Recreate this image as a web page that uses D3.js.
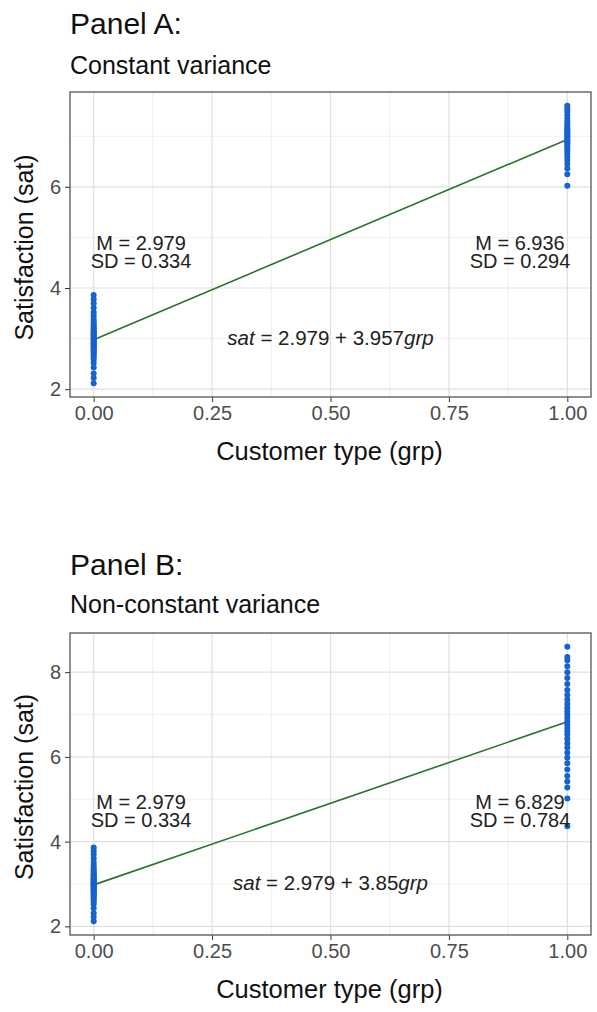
<!DOCTYPE html>
<html>
<head>
<meta charset="utf-8">
<script src="https://cdn.jsdelivr.net/npm/d3@7"></script>
<style>
  body { margin: 0; background: #fff; }
  svg text { font-family: Helvetica, Arial, "Liberation Sans", sans-serif; }
</style>
</head>
<body>
<svg id="chart" width="597" height="1012"></svg>
<script>
// data
const xTicks = [0, 0.25, 0.5, 0.75, 1]
const xTickLabels = ["0.00", "0.25", "0.50", "0.75", "1.00"]

// group 0 is the same in both panels
const satGrp0 = [2.12, 2.22, 2.31, 2.43, 2.52, 2.58, 2.63, 2.66, 2.70, 2.73, 2.76, 2.79, 2.81, 2.84, 2.86,
    2.88, 2.90, 2.92, 2.94, 2.96, 2.98, 3.00, 3.02, 3.04, 3.06, 3.08, 3.10, 3.12, 3.14, 3.17, 3.20,
    3.23, 3.26, 3.30, 3.34, 3.39, 3.45, 3.52, 3.61, 3.70, 3.78, 3.86]
const satGrp1A = [6.02, 6.25, 6.36, 6.45, 6.53, 6.60, 6.66, 6.71, 6.75, 6.79, 6.83, 6.86, 6.89, 6.92, 6.95,
    6.98, 7.01, 7.04, 7.07, 7.10, 7.13, 7.16, 7.20, 7.24, 7.29, 7.35, 7.42, 7.49, 7.55, 7.60]
const satGrp1B = [4.36, 5.02, 5.28, 5.42, 5.55, 5.70, 5.85, 5.98, 6.10, 6.22, 6.32, 6.42, 6.52, 6.60, 6.68,
    6.76, 6.84, 6.92, 7.00, 7.08, 7.16, 7.25, 7.35, 7.46, 7.58, 7.72, 7.86, 8.00, 8.14, 8.28, 8.36, 8.60]

const panelTitles = ["Panel A:", "Panel B:"]
const panelSubtitles = ["Constant variance", "Non-constant variance"]
const intercepts = [2.979, 2.979]
const slopes = [3.957, 3.85]
const means0 = ["2.979", "2.979"]
const sds0 = ["0.334", "0.334"]
const means1 = ["6.936", "6.829"]
const sds1 = ["0.294", "0.784"]
const yTicks = [[2, 4, 6], [2, 4, 6, 8]]

const POINT_COLOR = "#1762cc"
const LINE_COLOR = "#2a732a"
const GRID_COLOR = "#e0e0e0"
const BORDER_COLOR = "#555"
const FONT = "Helvetica, Arial, 'Liberation Sans', sans-serif"

const svg = d3.select("#chart")

const panels = [
    {top: 92, bottom: 397, titleY: 34, subY: 74, g1: satGrp1A},
    {top: 633, bottom: 935, titleY: 575, subY: 613, g1: satGrp1B}
]
const left = 70, right = 591

panels.forEach((p, i) => drawPanel(p, i))

function drawPanel(p, i) {
    let points = satGrp0.map(v => ({grp: 0, sat: v}))
        .concat(p.g1.map(v => ({grp: 1, sat: v})))

    let ext = d3.extent(points, d => d.sat)
    let pad = (ext[1] - ext[0]) * 0.05

    let x = d3.scaleLinear().domain([-0.05, 1.05]).range([left, right])
    let y = d3.scaleLinear().domain([ext[0] - pad, ext[1] + pad]).range([p.bottom, p.top])

    let g = svg.append("g")

    // titles
    g.append("text")
        .attr("x", left).attr("y", p.titleY)
        .attr("font-size", 30)
        .attr("fill", "#111")
        .text(panelTitles[i])
    g.append("text")
        .attr("x", left).attr("y", p.subY)
        .attr("font-size", 25)
        .attr("fill", "#111")
        .text(panelSubtitles[i])

    // grid: minor first then major
    let minorX = d3.range(0, 4).map(k => 0.125 + k * 0.25)
    let minorY = yTicks[i].map(v => v + 1).filter(v => y(v) > p.top)
    g.append("g").selectAll("line")
        .data(minorX).join("line")
        .attr("x1", d => x(d)).attr("x2", d => x(d))
        .attr("y1", p.top).attr("y2", p.bottom)
        .attr("stroke", "#efefef").attr("stroke-width", 1)
    g.append("g").selectAll("line")
        .data(minorY).join("line")
        .attr("x1", left).attr("x2", right)
        .attr("y1", d => y(d)).attr("y2", d => y(d))
        .attr("stroke", "#efefef").attr("stroke-width", 1)
    g.append("g").selectAll("line")
        .data(xTicks).join("line")
        .attr("x1", d => x(d)).attr("x2", d => x(d))
        .attr("y1", p.top).attr("y2", p.bottom)
        .attr("stroke", GRID_COLOR).attr("stroke-width", 1.2)
    g.append("g").selectAll("line")
        .data(yTicks[i]).join("line")
        .attr("x1", left).attr("x2", right)
        .attr("y1", d => y(d)).attr("y2", d => y(d))
        .attr("stroke", GRID_COLOR).attr("stroke-width", 1.2)

    // axes
    let xAxis = d3.axisBottom(x).tickValues(xTicks)
        .tickFormat((d, k) => xTickLabels[k])
        .tickSize(5).tickPadding(4)
    let gx = g.append("g")
        .attr("transform", `translate(0,${p.bottom})`)
        .call(xAxis)
    gx.select(".domain").remove()
    gx.selectAll("line").attr("stroke", "#333")
    gx.selectAll("text").attr("font-size", 20).attr("fill", "#4d4d4d")
        .attr("font-family", FONT)

    let yAxis = d3.axisLeft(y).tickValues(yTicks[i]).tickFormat(d3.format("d"))
        .tickSize(5).tickPadding(4)
    let gy = g.append("g")
        .attr("transform", `translate(${left},0)`)
        .call(yAxis)
    gy.select(".domain").remove()
    gy.selectAll("line").attr("stroke", "#333")
    gy.selectAll("text").attr("font-size", 20).attr("fill", "#4d4d4d")
        .attr("font-family", FONT)

    // axis titles
    g.append("text")
        .attr("x", (left + right) / 2 - 1).attr("y", p.bottom + 63)
        .attr("text-anchor", "middle")
        .attr("font-size", 25.5)
        .attr("fill", "#111")
        .text("Customer type (grp)")
    g.append("text")
        .attr("transform", `translate(33,${(p.top + p.bottom) / 2 + 3}) rotate(-90)`)
        .attr("text-anchor", "middle")
        .attr("font-size", 25)
        .attr("fill", "#111")
        .text("Satisfaction (sat)")

    // regression line
    g.append("line")
        .attr("x1", x(0)).attr("y1", y(intercepts[i]))
        .attr("x2", x(1)).attr("y2", y(intercepts[i] + slopes[i]))
        .attr("stroke", LINE_COLOR).attr("stroke-width", 1.6)

    // points
    g.append("g").selectAll("circle")
        .data(points).join("circle")
        .attr("cx", d => x(d.grp))
        .attr("cy", d => y(d.sat))
        .attr("r", 3)
        .attr("fill", POINT_COLOR)

    // group annotations
    let ann = [
        {gx: 0.1, m: means0[i], sd: sds0[i]},
        {gx: 0.9, m: means1[i], sd: sds1[i]}
    ]
    ann.forEach(a => {
        let t = g.append("text")
            .attr("text-anchor", "middle")
            .attr("font-size", 20)
            .attr("fill", "#222")
        t.append("tspan").attr("x", x(a.gx)).attr("y", y(4.7) - 3).text(`M = ${a.m}`)
        t.append("tspan").attr("x", x(a.gx)).attr("y", y(4.7) + 15.5).text(`SD = ${a.sd}`)
    })

    // equation
    let eq = g.append("text")
        .attr("x", x(0.5)).attr("y", y(3) + 6)
        .attr("text-anchor", "middle")
        .attr("font-size", 20.5)
        .attr("fill", "#222")
    eq.append("tspan").attr("font-style", "italic").text("sat")
    eq.append("tspan").text(` = ${intercepts[i]} + ${slopes[i]}`)
    eq.append("tspan").attr("font-style", "italic").text("grp")

    // panel border
    g.append("rect")
        .attr("x", left).attr("y", p.top)
        .attr("width", right - left).attr("height", p.bottom - p.top)
        .attr("fill", "none")
        .attr("stroke", BORDER_COLOR).attr("stroke-width", 1.3)
}
</script>
</body>
</html>
